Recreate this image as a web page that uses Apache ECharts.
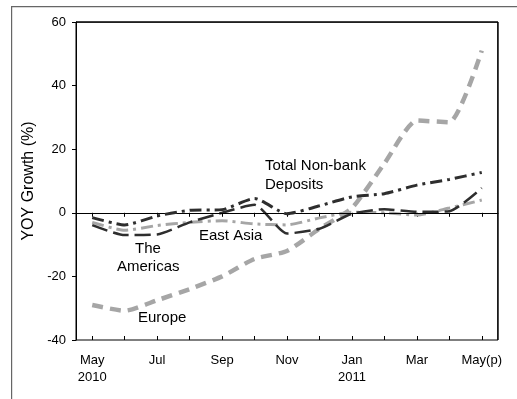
<!DOCTYPE html>
<html>
<head>
<meta charset="utf-8">
<script src="https://cdn.jsdelivr.net/npm/echarts@6/dist/echarts.min.js"></script>
<style>
html,body{margin:0;padding:0;background:#fff;}
#chart{width:517px;height:399px;}
</style>
</head>
<body>
<div id="chart"></div>
<script>
var months = ['May\n2010','Jun','Jul','Aug','Sep','Oct','Nov','Dec','Jan\n2011','Feb','Mar','Apr','May(p)'];
var totalNonBank = [-1.5, -3.8, -1, 0.8, 1, 4.5, -0.3, 2.2, 5, 6, 8.7, 10.5, 12.7];
var americas = [-3.9, -7, -6.8, -3, 0, 2.5, -6.5, -5, -0.3, 1.1, 0.3, 0.5, 7.8];
var eastAsia = [-3, -5.5, -4, -3, -2.5, -3.5, -3.8, -1.6, 0.2, 0, -0.7, 1.5, 4];
var europe = [-29, -30.8, -27.5, -24, -20, -14.5, -12, -5, 1.5, 15.5, 29, 28.5, 51];
var yTicks = [-40, -20, 0, 20, 40, 60];

var FONT = "'Liberation Sans', Arial, sans-serif";
var GRID = {left: 76, top: 22, right: 19, bottom: 59};
var chart = echarts.init(document.getElementById('chart'), null, {renderer: 'canvas', width: 517, height: 399});

function lineSeries(name, data, color, width, dash, z) {
  return {
    name: name, type: 'line', data: data, smooth: 0.2, symbol: 'none', z: z,
    lineStyle: {color: color, width: width, type: dash, cap: 'butt'},
    silent: true
  };
}

var series = [
  lineSeries('Europe', europe, '#a6a6a6', 4.5, [11, 7], 2),
  lineSeries('East Asia', eastAsia, '#a6a6a6', 3, [12, 5, 3, 5], 3),
  lineSeries('The Americas', americas, '#2e2e2e', 2.5, [16, 6], 4),
  lineSeries('Total Non-bank Deposits', totalNonBank, '#2e2e2e', 3, [12, 5, 3, 5], 5)
];
series[0].markLine = {
  silent: true, symbol: ['none', 'none'], label: {show: false},
  lineStyle: {color: '#000', width: 1, type: 'solid'},
  data: [{yAxis: 0}]
};

function txt(id, t, x, y) {
  return {id: id, type: 'text', left: x, top: y, style: {text: t, fill: '#000', font: '15px ' + FONT}};
}

var W = 517, H = 399;
var px = GRID.left, py = GRID.top, pr = W - GRID.right, pb = H - GRID.bottom;

chart.setOption({
  animation: false,
  backgroundColor: '#fff',
  grid: {left: GRID.left, top: GRID.top, right: GRID.right, bottom: GRID.bottom, show: true, borderColor: '#000', borderWidth: 1, backgroundColor: 'rgba(255,255,255,0)'},
  xAxis: [{
    type: 'category', data: months, boundaryGap: true, position: 'bottom',
    axisLine: {lineStyle: {color: '#000', width: 1}},
    axisTick: {show: true, alignWithLabel: true, interval: 0, length: 4, lineStyle: {color: '#000'}},
    axisLabel: {interval: 1, color: '#000', fontSize: 13, fontFamily: FONT, margin: 12, lineHeight: 17},
    splitLine: {show: false}
  }, {
    type: 'category', data: months, boundaryGap: true, position: 'bottom',
    axisLine: {show: false},
    axisTick: {show: true, inside: true, alignWithLabel: true, interval: 0, length: 4, lineStyle: {color: '#000'}},
    axisLabel: {show: false},
    splitLine: {show: false}
  }],
  yAxis: {
    type: 'value', min: yTicks[0], max: yTicks[yTicks.length - 1], interval: 20,
    name: 'YOY Growth (%)', nameLocation: 'middle', nameGap: 37, nameRotate: 90,
    nameTextStyle: {color: '#000', fontSize: 16, fontFamily: FONT},
    axisLine: {show: true, lineStyle: {color: '#000', width: 1}},
    axisTick: {show: true, length: 4, lineStyle: {color: '#000'}},
    axisLabel: {color: '#000', fontSize: 13, fontFamily: FONT, margin: 10},
    splitLine: {show: false}
  },
  series: series,
  graphic: {elements: [
    {id: 'plotTop', type: 'rect', silent: true, z: 100,
      shape: {x: px, y: py - 0.5, width: pr - px, height: 1.2}, style: {fill: '#000'}},
    {id: 'plotRight', type: 'rect', silent: true, z: 100,
      shape: {x: pr - 0.8, y: py, width: 1.2, height: pb - py}, style: {fill: '#000'}},
    {id: 'outerTop', type: 'rect', silent: true, z: 100,
      shape: {x: 11, y: 6, width: W - 11, height: 1.3}, style: {fill: '#666'}},
    {id: 'outerLeft', type: 'rect', silent: true, z: 100,
      shape: {x: 11, y: 6, width: 1.2, height: H - 6}, style: {fill: '#666'}},
    txt('t1', 'Total Non-bank', 265, 158),
    txt('t2', 'Deposits', 265, 177),
    txt('t3', 'East Asia', 199, 228),
    txt('t4', 'The', 135, 241),
    txt('t5', 'Americas', 117, 259),
    txt('t6', 'Europe', 138, 310)
  ]}
});
</script>
</body>
</html>
